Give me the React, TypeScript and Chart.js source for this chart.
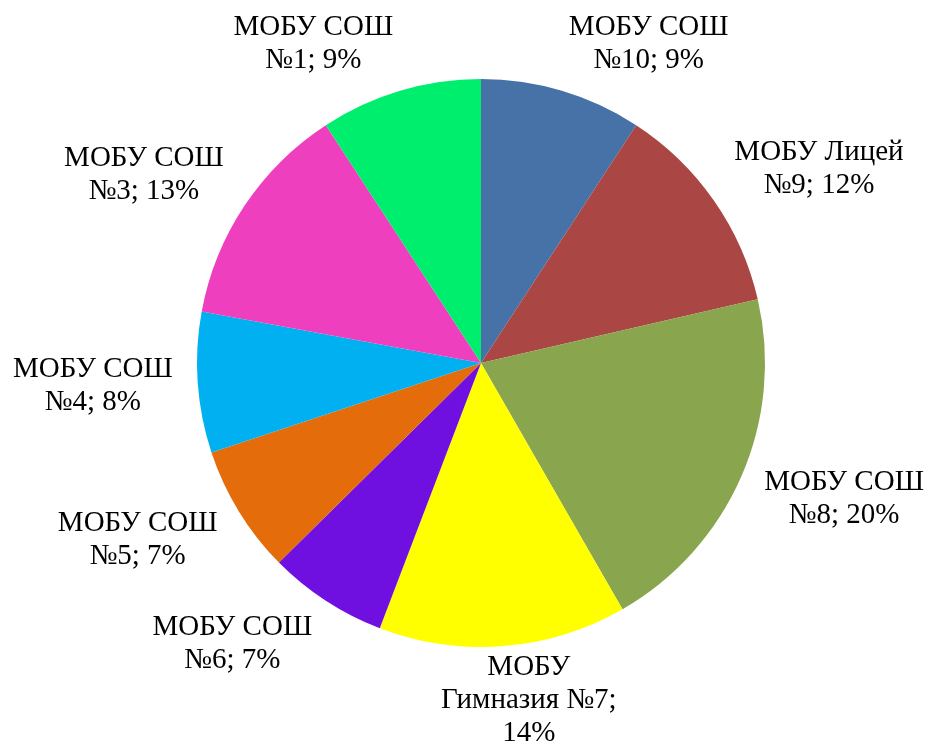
import React, { useEffect, useRef } from "react";
import { Chart, registerables } from "chart.js";

Chart.register(...registerables);

const categories = [
  "МОБУ СОШ №10",
  "МОБУ Лицей №9",
  "МОБУ СОШ №8",
  "МОБУ Гимназия №7",
  "МОБУ СОШ №6",
  "МОБУ СОШ №5",
  "МОБУ СОШ №4",
  "МОБУ СОШ №3",
  "МОБУ СОШ №1",
];
const shares = [9.2, 12.2, 20.3, 14.1, 6.8, 7.3, 8.0, 12.9, 9.2];
const colors = [
  "#4672A8",
  "#AA4744",
  "#89A54E",
  "#FFFF00",
  "#7010E0",
  "#E46C0A",
  "#00B0F0",
  "#EE3FBF",
  "#00EE6E",
];

const FONT_SIZE = 29;
const LINE_H = 33;
const FONT = `${FONT_SIZE}px "Liberation Serif", "Times New Roman", serif`;
const WRAP = 205;

function wrapText(ctx: CanvasRenderingContext2D, text: string, max: number): string[] {
  const words = text.split(" ");
  const lines: string[] = [];
  let cur = "";
  for (const w of words) {
    const t = cur ? cur + " " + w : w;
    if (cur && ctx.measureText(t).width > max) {
      lines.push(cur);
      cur = w;
    } else cur = t;
  }
  if (cur) lines.push(cur);
  return lines;
}

const clamp = (v: number) => Math.max(-1, Math.min(1, v));

const labelPlugin = {
  id: "outsideLabels",
  afterDatasetsDraw(chart: any) {
    const ctx: CanvasRenderingContext2D = chart.ctx;
    const meta = chart.getDatasetMeta(0);
    const data: number[] = chart.data.datasets[0].data;
    const total = data.reduce((a, b) => a + b, 0);
    ctx.save();
    ctx.font = FONT;
    ctx.fillStyle = "#000";
    ctx.textAlign = "center";
    ctx.textBaseline = "middle";
    meta.data.forEach((el: any, i: number) => {
      const pct = Math.round((data[i] / total) * 100);
      const text = `${chart.data.labels[i]}; ${pct}%`;
      const lines = wrapText(ctx, text, WRAP);
      const w = Math.max(...lines.map((l) => ctx.measureText(l).width));
      const h = lines.length * LINE_H;
      const a = (el.startAngle + el.endAngle) / 2;
      const ca = Math.cos(a);
      const sa = Math.sin(a);
      const R = el.outerRadius + 15;
      const ax = el.x + R * ca;
      const ay = el.y + R * sa;
      const cx = ax + (w / 2 + 10 * Math.abs(ca)) * clamp(ca * 3.5);
      const cy = ay + (h / 2) * clamp(sa * 1.2) - 10 * Math.pow(Math.max(0, sa), 8);
      lines.forEach((l, k) => {
        ctx.fillText(l, cx, cy - h / 2 + LINE_H * (k + 0.5));
      });
    });
    ctx.restore();
  },
};

export default function App() {
  const ref = useRef<HTMLCanvasElement>(null);
  useEffect(() => {
    document.body.style.margin = "0";
    const chart = new Chart(ref.current!, {
      type: "pie",
      data: {
        labels: categories,
        datasets: [
          {
            data: shares,
            backgroundColor: colors,
            borderWidth: 0,
          },
        ],
      },
      options: {
        animation: false,
        responsive: false,
        layout: { padding: { top: 79, bottom: 100, left: 197, right: 165 } },
        plugins: {
          legend: { display: false },
          tooltip: { enabled: false },
        },
      },
      plugins: [labelPlugin],
    });
    return () => chart.destroy();
  }, []);
  return (
    <div style={{ width: 930, height: 747, background: "#fff" }}>
      <canvas ref={ref} width={930} height={747} />
    </div>
  );
}
